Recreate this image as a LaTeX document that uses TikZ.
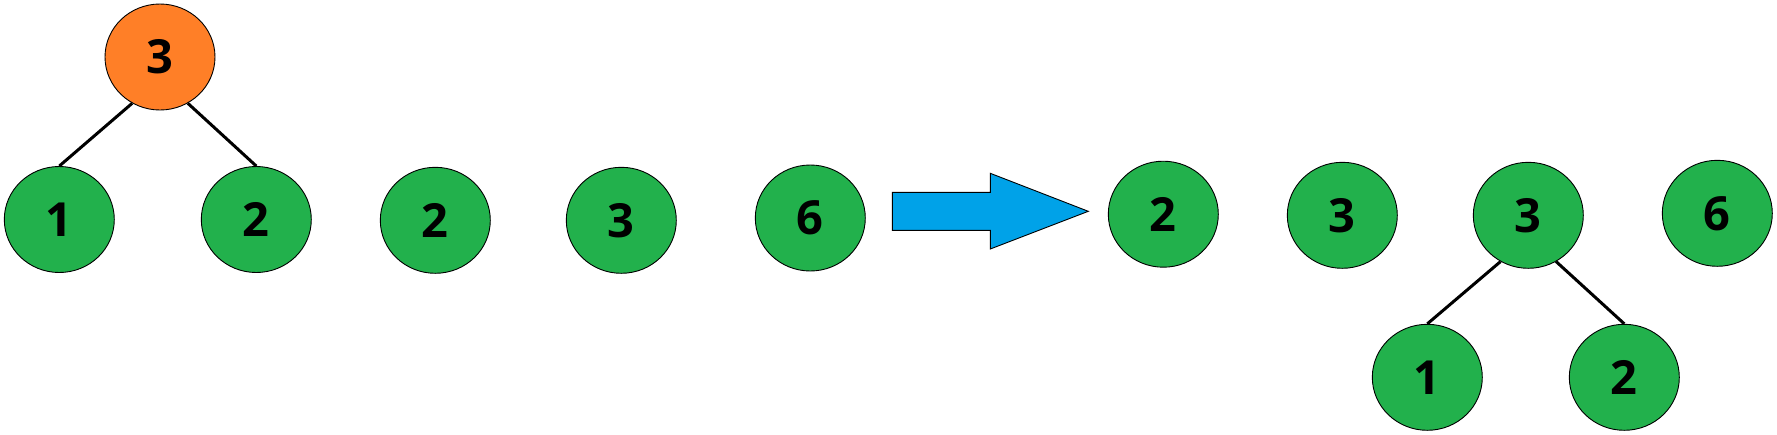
\documentclass[tikz,border=0pt]{standalone}
\usepackage{fontspec}
\setmainfont{Open Sans}
\usetikzlibrary{shapes.geometric}
\definecolor{hgreen}{HTML}{22B14C}
\definecolor{horange}{HTML}{FF7F27}
\definecolor{hblue}{HTML}{00A2E8}
\begin{document}
\begin{tikzpicture}[x=1pt,y=-1pt,
  heapnode/.style={ellipse,draw=black,line width=0.9pt,fill=hgreen,
    minimum width=110pt,minimum height=106pt,inner sep=0pt,
    font=\fontsize{47}{50}\selectfont\bfseries},
  rootnode/.style={heapnode,fill=horange},
  edge/.style={draw=black,line width=3pt}]
\useasboundingbox (0,0) rectangle (1777,434);
% left side
\node[rootnode] (l3) at (160,57) {3};
\node[heapnode] (l1) at (59.3,219.5) {1};
\node[heapnode] (l2) at (256.3,219.5) {2};
\node[heapnode] (a2) at (435.3,220.3) {2};
\node[heapnode] (a3) at (621.3,220.3) {3};
\node[heapnode] (a6) at (810.3,218) {6};
\draw[edge] (l3.239) -- (l1.north);
\draw[edge] (l3.301) -- (l2.north);
% arrow
\draw[fill=hblue,draw=black,line width=0.9pt]
  (892.3,192.3) -- (990.3,192.3) -- (990.3,173.3) -- (1088.3,211.3)
  -- (990.3,249) -- (990.3,230.3) -- (892.3,230.3) -- cycle;
% right side
\node[heapnode] (b2) at (1163.3,214.2) {2};
\node[heapnode] (b3) at (1342.3,215.3) {3};
\node[heapnode] (r3) at (1528.3,215.3) {3};
\node[heapnode] (b6) at (1717.3,213.3) {6};
\node[heapnode] (r1) at (1427.3,377.3) {1};
\node[heapnode] (r2) at (1624.3,377.3) {2};
\draw[edge] (r3.239) -- (r1.north);
\draw[edge] (r3.301) -- (r2.north);
\end{tikzpicture}
\end{document}
